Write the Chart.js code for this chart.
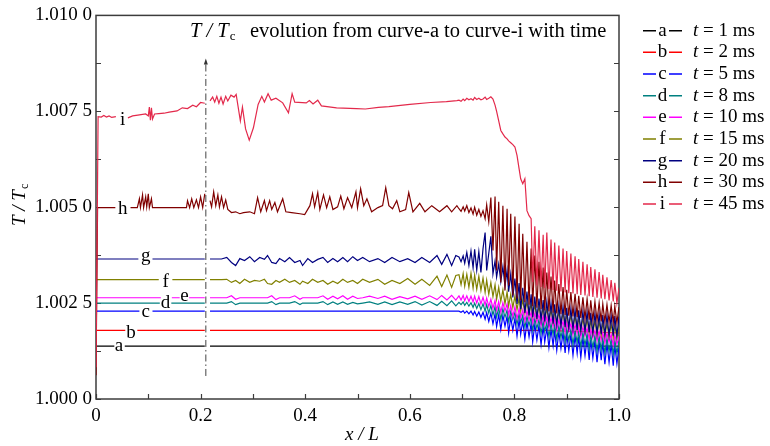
<!DOCTYPE html>
<html>
<head>
<meta charset="utf-8">
<script src="https://cdn.jsdelivr.net/npm/chart.js@4.4.0/dist/chart.umd.min.js"></script>
<style>
  html, body { margin: 0; padding: 0; background: #fff; }
  canvas { display: block; }
</style>
</head>
<body>
<canvas id="chart" width="770" height="446"></canvas>
<script>
// values are T/Tc - 1, in units of 1e-4 (so 25 -> 1.002 5)
const seriesLetters = ["a", "b", "c", "d", "e", "f", "g", "h", "i"];
const seriesTimes = [1, 2, 5, 8, 10, 15, 20, 30, 45];
const seriesColors = ["#000000", "#ff0000", "#0000ff", "#008080", "#ff00ff", "#808000", "#000080", "#800000", "#e3294b"];
const xTickLabels = ["0", "0.2", "0.4", "0.6", "0.8", "1.0"];
const yTickLabels = ["1.000 0", "1.002 5", "1.005 0", "1.007 5", "1.010 0"];

// where the curve letters sit (x, baseline value)
const labelX = [0.044, 0.067, 0.095, 0.133, 0.169, 0.133, 0.095, 0.051, 0.051];
const labelY = [12.6, 15.9, 21.4, 23.6, 25.5, 29.1, 36.1, 48.2, 71.3];

// dash-dot marker
const markerX = 0.21;
const markerSpan = [6, 88];

// flat / left parts
const xA = [0, 0.035, 0.044, 0.055, 0.208, 0.213, 0.218, 1.0];
const dA = [13.8, 13.8, null, 13.8, 13.8, null, 13.8, 13.8];
const xB = [0, 0.056, 0.067, 0.079, 0.208, 0.213, 0.218, 0.860, 0.920, 1.0];
const dB = [17.9, 17.9, null, 17.9, 17.9, null, 17.9, 17.9, 17.6, 17.2];
const xC = [0, 0.083, 0.095, 0.108, 0.208, 0.213, 0.218];
const dC = [22.9, 22.9, null, 22.9, 22.9, null, 22.9];
const xD = [0, 0.122, 0.133, 0.144, 0.208, 0.213, 0.218, 0.240];
const dD = [25.0, 25.0, null, 25.0, 25.0, null, 25.0, 25.0];
const xE = [0, 0.124, 0.134, 0.145, 0.160, 0.169, 0.178, 0.208, 0.213, 0.218, 0.240];
const dE = [26.4, 26.4, null, 26.4, 26.4, null, 26.4, 26.4, null, 26.4, 26.4];
const xF = [0, 0.120, 0.133, 0.146, 0.208, 0.213, 0.218, 0.240];
const dF = [31.1, 31.1, null, 31.1, 31.1, null, 31.1, 31.1];
const xG = [0, 0.081, 0.095, 0.108, 0.208, 0.213, 0.218, 0.240];
const dG = [36.5, 36.5, null, 36.5, 36.5, null, 36.5, 36.5];

const xH = [0, 0.003, 0.037, 0.050, 0.066, 0.079, 0.083, 0.085, 0.089, 0.091, 0.095, 0.097, 0.100, 0.102, 0.106, 0.108,
  0.173, 0.175, 0.179, 0.183, 0.187, 0.192, 0.196, 0.200, 0.204, 0.208, 0.213, 0.218, 0.221, 0.225, 0.229, 0.233,
  0.236, 0.240, 0.244, 0.248, 0.252, 0.259, 0.267, 0.275, 0.282, 0.294, 0.303, 0.309, 0.315, 0.322, 0.326, 0.332,
  0.336, 0.342, 0.347, 0.357, 0.363, 0.374, 0.390, 0.399, 0.409, 0.414, 0.418, 0.424, 0.428, 0.435, 0.441, 0.447,
  0.453, 0.462, 0.468, 0.474, 0.481, 0.489, 0.497, 0.500, 0.506, 0.512, 0.518, 0.527, 0.539, 0.548, 0.554, 0.560,
  0.567, 0.575, 0.581, 0.592, 0.598, 0.606, 0.619, 0.629, 0.642, 0.657, 0.671, 0.680, 0.690];
const dH = [6.2, 49.9, 49.9, null, 49.9, 49.9, 52.2, 49.9, 53.2, 49.9, 52.7, 50.1, 53.5, 49.9, 52.2, 49.9,
  49.9, 51.7, 49.9, 52.2, 49.9, 51.9, 49.9, 52.7, 49.9, 53.5, null, 51.7, 50.1, 54.0, 50.4, 53.2,
  50.1, 52.7, 49.9, 51.9, 49.4, 48.6, 48.8, 48.3, 48.6, 48.8, 48.3, 52.5, 48.8, 51.7, 49.1, 51.7,
  49.4, 51.2, 48.8, 52.2, 48.8, 48.6, 48.3, 48.1, 50.4, 53.5, 50.1, 53.8, 49.4, 53.2, 49.9, 52.7,
  49.4, 50.1, 52.9, 49.6, 52.5, 49.9, 54.0, 49.9, 54.8, 50.4, 52.2, 48.8, 49.9, 50.4, 55.1, 50.4,
  49.6, 51.7, 48.8, 49.4, 53.8, 48.8, 51.0, 48.8, 50.4, 48.8, 50.4, 48.8, 50.4];

const xI = [0, 0.004, 0.010, 0.015, 0.020, 0.025, 0.030, 0.038, 0.050, 0.061, 0.070, 0.080, 0.095, 0.100, 0.102, 0.104,
  0.106, 0.108, 0.112, 0.120, 0.130, 0.140, 0.155, 0.165, 0.175, 0.185, 0.192, 0.200, 0.208, 0.213, 0.218, 0.223,
  0.227, 0.231, 0.235, 0.239, 0.243, 0.248, 0.252, 0.258, 0.264, 0.268, 0.276, 0.280, 0.286, 0.293, 0.301, 0.310,
  0.317, 0.322, 0.329, 0.335, 0.344, 0.357, 0.368, 0.375, 0.380, 0.402, 0.408, 0.415, 0.424, 0.431, 0.460, 0.498,
  0.515, 0.540, 0.560, 0.600, 0.640, 0.670, 0.690];
const dI = [8.3, 73.6, 73.5, 73.9, 73.5, 73.8, 73.4, 73.6, null, 73.3, 73.8, 74.0, 74.3, 73.8, 76.1, 72.7,
  75.9, 73.0, 74.3, 74.4, 74.5, 74.8, 75.1, 75.9, 75.7, 76.6, 76.2, 77.3, 77.1, null, 77.7, 78.7,
  77.4, 78.9, 77.1, 78.7, 76.9, 78.9, 77.7, 79.2, 78.7, 79.4, 72.5, 76.1, 70.4, 67.5, 70.7, 76.8,
  78.9, 77.4, 79.6, 77.9, 78.4, 77.2, 74.6, 79.6, 77.4, 77.2, 77.8, 76.9, 77.9, 76.4, 75.9, 75.7,
  75.6, 76.0, 76.2, 76.8, 77.3, 77.5, 77.8];

// middle stretch (0.25 - 0.69), shared x
const xMid = [0.250, 0.259, 0.267, 0.275, 0.284, 0.294, 0.303, 0.313, 0.322, 0.328,
  0.336, 0.344, 0.351, 0.361, 0.370, 0.380, 0.390, 0.395, 0.405, 0.414,
  0.424, 0.434, 0.443, 0.453, 0.462, 0.472, 0.481, 0.491, 0.500, 0.510,
  0.523, 0.539, 0.552, 0.566, 0.581, 0.596, 0.610, 0.623, 0.638, 0.652,
  0.661, 0.671, 0.680, 0.688];
const mD = [25.0, 25.4, 24.6, 25.0, 25.0, 25.0, 25.0, 25.0, 25.0, 25.0,
  25.4, 24.6, 25.0, 25.0, 25.0, 25.4, 24.6, 25.0, 25.0, 25.0,
  25.0, 25.4, 24.6, 25.3, 24.7, 25.3, 24.7, 25.2, 24.8, 25.0,
  25.3, 24.7, 25.3, 24.6, 25.3, 24.7, 25.4, 24.5, 25.4, 24.4,
  25.5, 24.3, 25.6, 24.3];
const mE = [26.4, 26.9, 26.0, 26.4, 26.4, 26.4, 26.4, 26.4, 26.4, 26.4,
  26.9, 25.9, 26.4, 26.4, 26.4, 26.9, 26.0, 26.4, 26.4, 26.4,
  26.4, 26.9, 26.0, 26.8, 26.1, 26.9, 26.0, 26.8, 26.2, 26.4,
  26.8, 26.2, 26.8, 26.0, 26.7, 26.1, 26.8, 26.0, 26.9, 25.9,
  27.0, 25.8, 27.0, 25.8];
const mF = [31.2, 30.4, 30.9, 30.1, 31.2, 30.4, 30.9, 30.7, 31.2, 30.1,
  29.9, 30.9, 30.4, 31.2, 30.4, 30.9, 29.9, 30.7, 30.1, 31.2,
  30.4, 30.9, 29.9, 30.7, 30.1, 31.2, 30.4, 30.9, 30.1, 31.2,
  30.4, 31.2, 29.9, 30.9, 30.1, 31.4, 29.9, 31.2, 29.6, 32.0,
  29.3, 32.3, 29.1, 32.2];
const mG = [36.9, 35.6, 34.8, 36.6, 36.1, 37.1, 35.8, 36.9, 36.4, 37.4,
  35.6, 35.3, 36.6, 35.8, 36.9, 35.6, 36.1, 34.8, 36.6, 35.6,
  36.4, 36.9, 35.6, 36.6, 35.8, 36.9, 35.8, 37.1, 36.1, 36.9,
  35.8, 36.6, 35.6, 36.9, 35.8, 36.6, 35.6, 36.9, 35.6, 37.4,
  35.1, 37.7, 34.8, 37.4];

// noisy tail (0.694 - 1.0), shared x
const xTail = [0.694, 0.698, 0.702, 0.705, 0.709, 0.713, 0.717, 0.721, 0.724, 0.728,
  0.732, 0.736, 0.740, 0.744, 0.747, 0.751, 0.755, 0.759, 0.763, 0.766,
  0.770, 0.774, 0.778, 0.782, 0.786, 0.789, 0.793, 0.797, 0.801, 0.805,
  0.809, 0.812, 0.816, 0.820, 0.824, 0.828, 0.832, 0.835, 0.839, 0.843,
  0.847, 0.851, 0.855, 0.858, 0.862, 0.866, 0.870, 0.874, 0.877, 0.881,
  0.885, 0.889, 0.893, 0.897, 0.900, 0.904, 0.908, 0.912, 0.916, 0.920,
  0.923, 0.927, 0.931, 0.935, 0.939, 0.943, 0.946, 0.950, 0.954, 0.958,
  0.962, 0.966, 0.969, 0.973, 0.977, 0.981, 0.985, 0.989, 0.992, 0.996,
  1.000];
const tC = [22.9, 22.6, 23.0, 22.4, 22.9, 22.2, 22.9, 21.9, 22.8, 21.6,
  22.7, 21.3, 22.6, 20.8, 22.5, 20.2, 22.4, 19.6, 22.2, 18.9,
  22.0, 18.1, 21.8, 19.0, 21.6, 17.2, 21.3, 17.9, 21.0, 16.4,
  20.7, 16.9, 20.4, 15.6, 20.1, 16.2, 19.8, 14.9, 19.5, 15.4,
  19.2, 14.2, 18.9, 14.8, 18.5, 13.4, 18.2, 13.9, 17.9, 12.7,
  17.6, 13.2, 17.3, 12.0, 17.0, 12.6, 16.8, 11.4, 16.5, 11.9,
  16.3, 10.8, 16.0, 11.3, 15.8, 10.2, 15.5, 10.7, 15.3, 9.6,
  15.0, 10.1, 14.8, 9.1, 14.5, 9.6, 14.3, 8.7, 14.0, 9.2,
  13.6];
const tD = [25.2, 24.6, 25.3, 24.4, 25.2, 24.2, 25.1, 23.9, 25.0, 23.6,
  24.9, 23.3, 24.8, 22.9, 24.6, 22.4, 24.4, 21.9, 24.1, 21.4,
  23.8, 20.8, 23.5, 21.3, 23.2, 20.2, 22.9, 20.7, 22.6, 19.5,
  22.2, 19.9, 21.9, 18.7, 21.6, 19.2, 21.3, 17.9, 21.0, 18.4,
  20.7, 17.1, 20.4, 17.6, 20.0, 16.3, 19.7, 16.8, 19.4, 15.6,
  19.1, 16.0, 18.8, 14.9, 18.5, 15.3, 18.2, 14.2, 17.9, 14.7,
  17.6, 13.6, 17.4, 14.0, 17.1, 13.0, 16.9, 13.4, 16.6, 12.5,
  16.4, 12.9, 16.1, 12.0, 15.9, 12.4, 15.7, 11.6, 15.5, 11.9,
  15.2];
const tE = [26.9, 25.8, 27.0, 25.6, 26.9, 25.4, 26.8, 25.3, 26.8, 25.0,
  26.7, 24.8, 26.5, 24.5, 26.3, 24.1, 26.0, 23.6, 25.7, 23.1,
  25.4, 22.6, 25.1, 22.9, 24.8, 22.0, 24.4, 21.5, 24.0, 20.9,
  23.6, 21.2, 23.3, 20.3, 23.0, 20.6, 22.7, 19.7, 22.4, 20.0,
  22.1, 19.1, 21.8, 19.4, 21.5, 18.5, 21.2, 18.8, 20.9, 17.9,
  20.6, 18.2, 20.3, 17.3, 20.0, 17.6, 19.7, 16.8, 19.4, 17.0,
  19.1, 16.2, 18.8, 16.5, 18.5, 15.6, 18.2, 15.9, 17.9, 15.1,
  17.7, 15.3, 17.4, 14.5, 17.2, 14.8, 16.9, 14.0, 16.7, 14.3,
  16.4];
const tF = [32.4, 29.8, 32.7, 29.4, 32.5, 29.1, 32.8, 28.9, 32.3, 28.6,
  32.0, 28.3, 31.5, 27.8, 31.0, 27.3, 30.4, 26.7, 29.8, 26.0,
  29.1, 25.4, 28.5, 24.8, 27.9, 24.3, 27.3, 23.8, 26.8, 23.3,
  26.3, 22.9, 25.8, 22.4, 25.3, 22.0, 24.9, 21.6, 24.5, 21.3,
  24.1, 21.0, 23.8, 20.7, 23.5, 20.4, 23.2, 20.1, 22.9, 19.8,
  22.7, 19.5, 22.4, 19.2, 22.1, 18.9, 21.8, 18.6, 21.5, 18.3,
  21.2, 18.0, 21.0, 17.7, 20.8, 17.4, 20.6, 17.1, 20.4, 16.8,
  20.2, 16.6, 20.0, 16.4, 19.8, 16.2, 19.6, 16.0, 19.4, 15.9,
  19.2];
const tG = [37.0, 35.8, 37.3, 35.4, 38.2, 34.8, 38.6, 34.2, 39.0, 33.6,
  38.4, 33.0, 39.2, 43.4, 33.5, 38.0, 42.4, 32.6, 36.0, 31.8,
  35.2, 30.6, 34.5, 29.4, 33.6, 28.0, 32.6, 26.5, 31.4, 24.8,
  30.2, 23.4, 29.0, 22.4, 28.0, 21.8, 27.3, 21.3, 26.7, 20.9,
  26.2, 20.6, 25.8, 20.2, 25.4, 19.9, 25.0, 19.6, 24.7, 19.3,
  24.4, 19.0, 24.1, 18.7, 23.8, 18.5, 23.6, 18.2, 23.3, 18.0,
  23.1, 17.8, 22.9, 17.6, 22.7, 17.4, 22.5, 17.2, 22.3, 17.0,
  22.1, 16.9, 21.9, 16.7, 21.8, 16.6, 21.7, 16.5, 21.6, 16.4,
  21.5];
const tH = [49.6, 48.9, 50.1, 49.0, 50.4, 48.6, 49.8, 48.2, 50.0, 47.9,
  49.4, 47.6, 49.1, 47.0, 50.6, 46.2, 52.5, 38.7, 52.8, 33.5,
  51.4, 30.4, 50.4, 28.3, 49.6, 29.6, 48.3, 27.0, 47.6, 26.2,
  45.7, 25.7, 43.1, 25.2, 41.0, 24.6, 39.2, 24.2, 37.4, 23.8,
  35.8, 23.4, 34.3, 23.1, 33.0, 22.8, 31.9, 22.5, 30.9, 22.3,
  30.0, 22.1, 29.2, 21.9, 28.5, 21.7, 27.9, 21.5, 27.4, 21.3,
  26.9, 21.1, 26.5, 20.9, 26.1, 20.7, 25.7, 20.5, 25.4, 20.4,
  25.1, 20.2, 24.8, 20.1, 24.6, 20.0, 24.4, 19.9, 24.2, 19.8,
  24.0];
const tI = [77.9, 77.6, 78.2, 77.8, 78.4, 78.0, 78.3, 77.9, 78.6, 78.1,
  78.4, 78.0, 78.2, 78.7, 78.1, 78.4, 78.8, 78.2, 76.6, 75.0,
  72.5, 70.0, 69.1, 68.3, 67.8, 67.3, 66.8, 66.3, 65.7, 63.5,
  60.0, 57.4, 56.1, 57.4, 49.1, 47.8, 47.0, 30.5, 45.0, 29.6,
  44.0, 29.2, 42.8, 28.9, 43.4, 28.6, 41.6, 28.4, 40.8, 28.2,
  40.0, 28.0, 39.2, 27.8, 38.6, 27.6, 37.9, 27.5, 37.2, 27.3,
  36.5, 27.1, 35.8, 27.0, 35.1, 26.8, 34.4, 26.6, 33.8, 26.4,
  33.1, 26.2, 32.4, 26.0, 31.7, 25.7, 31.0, 25.4, 30.3, 25.0,
  29.0];

const FONT = '"Liberation Serif", "Times New Roman", serif';

function pts(xs, ys) {
  return xs.map((x, i) => ({ x: x, y: ys[i] }));
}

const curves = [
  pts(xA, dA),
  pts(xB, dB),
  pts(xC, dC).concat(pts(xTail, tC)),
  pts(xD, dD).concat(pts(xMid, mD), pts(xTail, tD)),
  pts(xE, dE).concat(pts(xMid, mE), pts(xTail, tE)),
  pts(xF, dF).concat(pts(xMid, mF), pts(xTail, tF)),
  pts(xG, dG).concat(pts(xMid, mG), pts(xTail, tG)),
  pts(xH, dH).concat(pts(xTail, tH)),
  pts(xI, dI).concat(pts(xTail, tI))
];

const datasets = curves.map((data, k) => ({
  label: seriesLetters[k],
  data: data,
  borderColor: seriesColors[k],
  borderWidth: 1.2,
  pointRadius: 0,
  spanGaps: false,
  order: 8 - k
}));

datasets.push({
  label: "marker",
  data: [{ x: markerX, y: markerSpan[0] }, { x: markerX, y: markerSpan[1] }],
  borderColor: "#444",
  borderWidth: 1,
  borderDash: [7, 3, 1.5, 3],
  pointRadius: 0,
  order: 20
});

function drawTc(ctx, x, y, size) {
  // italic "T / T" with a small upright subscript "c"
  ctx.font = "italic " + size + "px " + FONT;
  ctx.fillText("T / T", x, y);
  const w = ctx.measureText("T / T").width;
  ctx.font = Math.round(size * 0.62) + "px " + FONT;
  ctx.fillText("c", x + w + 1, y + 3);
  return w + 1 + ctx.measureText("c").width;
}

const overlay = {
  id: "overlay",
  beforeDatasetsDraw(chart) {
    const { ctx, chartArea: a, scales: { x, y } } = chart;
    ctx.save();
    ctx.strokeStyle = "#3c3c3c";
    ctx.lineWidth = 1.5;
    ctx.strokeRect(a.left, a.top, a.right - a.left, a.bottom - a.top);
    ctx.lineWidth = 1.2;
    ctx.beginPath();
    y.ticks.forEach(t => {
      const py = Math.round(y.getPixelForValue(t.value)) + 0.5;
      ctx.moveTo(a.left, py); ctx.lineTo(a.left + 5, py);
      ctx.moveTo(a.right, py); ctx.lineTo(a.right - 5, py);
    });
    x.ticks.forEach(t => {
      const px = Math.round(x.getPixelForValue(t.value)) + 0.5;
      ctx.moveTo(px, a.bottom); ctx.lineTo(px, a.bottom - 5);
    });
    ctx.stroke();
    ctx.restore();
  },
  afterDraw(chart) {
    const { ctx, scales: { x, y } } = chart;
    ctx.save();
    ctx.fillStyle = "#000";
    ctx.textBaseline = "alphabetic";

    // curve letters
    ctx.textAlign = "center";
    ctx.font = "19px " + FONT;
    seriesLetters.forEach((s, k) => {
      ctx.fillText(s, x.getPixelForValue(labelX[k]), y.getPixelForValue(labelY[k]));
    });

    // arrow head on the marker
    const ax = x.getPixelForValue(markerX);
    const ay = y.getPixelForValue(markerSpan[1]);
    ctx.fillStyle = "#333";
    ctx.beginPath();
    ctx.moveTo(ax, ay - 3);
    ctx.lineTo(ax - 2, ay + 3);
    ctx.lineTo(ax + 2, ay + 3);
    ctx.closePath();
    ctx.fill();
    ctx.fillStyle = "#000";

    // title inside the plot
    ctx.textAlign = "left";
    drawTc(ctx, 190, 37, 20.5);
    ctx.font = "20.5px " + FONT;
    ctx.fillText("evolution from curve-a to curve-i with time", 250, 37);

    // legend
    seriesLetters.forEach((s, k) => {
      const ly = 30.7 + k * 21.66;
      ctx.strokeStyle = seriesColors[k];
      ctx.lineWidth = 1.5;
      ctx.beginPath();
      ctx.moveTo(643, ly); ctx.lineTo(656, ly);
      ctx.moveTo(669, ly); ctx.lineTo(682, ly);
      ctx.stroke();
      ctx.textAlign = "center";
      ctx.font = "19px " + FONT;
      ctx.fillText(s, 662.5, ly + 5);
      ctx.textAlign = "left";
      ctx.font = "italic 19px " + FONT;
      ctx.fillText("t", 693, ly + 5);
      const w = ctx.measureText("t").width;
      ctx.font = "19px " + FONT;
      ctx.fillText(" = " + seriesTimes[k] + " ms", 693 + w, ly + 5);
    });

    // axis titles
    ctx.font = "italic 19px " + FONT;
    ctx.textAlign = "center";
    ctx.fillText("x / L", 362, 440);

    ctx.save();
    ctx.translate(25, 226);
    ctx.rotate(-Math.PI / 2);
    ctx.textAlign = "left";
    drawTc(ctx, 0, 0, 19);
    ctx.restore();

    ctx.restore();
  }
};

new Chart(document.getElementById("chart").getContext("2d"), {
  type: "line",
  data: { datasets: datasets },
  options: {
    responsive: false,
    animation: false,
    devicePixelRatio: 1,
    layout: { padding: { top: 14, right: 151, left: 0, bottom: 0 } },
    plugins: { legend: { display: false }, tooltip: { enabled: false } },
    elements: { line: { tension: 0 }, point: { radius: 0 } },
    scales: {
      x: {
        type: "linear",
        min: 0,
        max: 1,
        afterFit: s => { s.height = 47; },
        grid: { display: false, drawTicks: false },
        border: { display: false },
        ticks: {
          stepSize: 0.1,
          autoSkip: false,
          maxRotation: 0,
          padding: 6,
          color: "#000",
          font: { family: FONT, size: 19 },
          callback: (v, i) => (i % 2 === 0 ? xTickLabels[i / 2] : "")
        }
      },
      y: {
        type: "linear",
        min: 0,
        max: 100,
        afterFit: s => { s.width = 96; },
        grid: { display: false, drawTicks: false },
        border: { display: false },
        ticks: {
          stepSize: 12.5,
          autoSkip: false,
          padding: 4,
          color: "#000",
          font: { family: FONT, size: 19 },
          callback: (v, i) => (i % 2 === 0 ? yTickLabels[i / 2] : "")
        }
      }
    }
  },
  plugins: [overlay]
});
</script>
</body>
</html>
